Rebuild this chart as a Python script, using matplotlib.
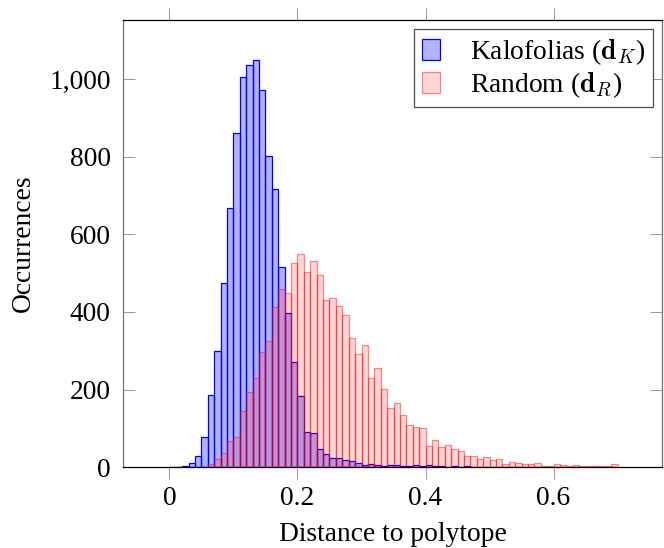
import numpy as np
import matplotlib
matplotlib.use("Agg")
import matplotlib.pyplot as plt
from matplotlib.ticker import FuncFormatter

plt.rcParams["font.family"] = ["Liberation Serif", "DejaVu Serif"]
plt.rcParams["mathtext.fontset"] = "cm"

# histogram bins: left edges, width 0.01
bin_width = 0.01
bin_left = np.round(np.arange(0, 0.70, bin_width), 2)

kalofolias_counts = [
    0, 0, 3, 10, 29, 77, 185, 299, 474, 667,
    862, 1005, 1037, 1049, 971, 801, 716, 517, 396, 272,
    183, 92, 88, 47, 33, 24, 24, 18, 15, 12,
    7, 9, 7, 3, 5, 5, 3, 3, 5, 3,
    5, 4, 3, 2, 3, 2, 3, 2, 2, 1,
    2, 1, 2, 1, 1, 2, 1, 1, 0, 1,
    1, 1, 0, 1, 1, 2, 1, 1, 1, 2,
]
random_counts = [
    0, 0, 0, 0, 1, 2, 9, 21, 38, 67,
    79, 145, 193, 231, 296, 325, 414, 460, 450, 527,
    550, 502, 530, 496, 432, 436, 416, 391, 332, 292,
    315, 231, 255, 202, 153, 166, 135, 110, 104, 101,
    56, 70, 53, 58, 48, 41, 28, 29, 21, 26,
    19, 22, 9, 14, 10, 8, 8, 10, 3, 3,
    8, 5, 4, 5, 3, 3, 4, 3, 4, 8,
]

fs = 19.8

fig = plt.figure(figsize=(6.64, 5.48), dpi=100)
ax = fig.add_axes([0.1857, 0.1473, 0.812, 0.8171])

ax.bar(bin_left, kalofolias_counts, width=bin_width, align="edge",
       facecolor=(0, 0, 1, 0.3), edgecolor=(0, 0, 1, 1), linewidth=0.9,
       label=r"Kalofolias ($\mathbf{d}_K$)")
ax.bar(bin_left, random_counts, width=bin_width, align="edge",
       facecolor=(1, 0, 0, 0.16), edgecolor=(1, 0, 0, 0.45), linewidth=0.9,
       label=r"Random ($\mathbf{d}_R$)")

ax.set_xlim(-0.072, 0.770)
ax.set_ylim(0, 1153)
ax.set_xticks([0, 0.2, 0.4, 0.6])
ax.set_xticklabels(["0", "0.2", "0.4", "0.6"])
ax.set_yticks([0, 200, 400, 600, 800, 1000])
ax.yaxis.set_major_formatter(FuncFormatter(lambda v, p: f"{v:,.0f}"))

# x ticks stick out, y ticks point in, on all four sides
ax.tick_params(axis="x", direction="out", length=8.6, width=0.7, color="0.6",
               top=True, labelsize=fs, pad=5)
ax.tick_params(axis="y", direction="in", length=8.6, width=0.7, color="0.6",
               right=True, labelsize=fs, pad=9)
for side in ["top", "bottom"]:
    ax.spines[side].set_color("black")
    ax.spines[side].set_linewidth(0.9)
for side in ["left", "right"]:
    ax.spines[side].set_color("0.45")
    ax.spines[side].set_linewidth(0.9)

ax.set_xlabel("Distance to polytope", fontsize=fs)
ax.set_ylabel("Occurrences", fontsize=fs)
ax.xaxis.set_label_coords(0.5, -0.122)
ax.yaxis.set_label_coords(-0.162, 0.5)

leg = ax.legend(loc="upper right", fontsize=fs, fancybox=False,
                edgecolor="0.3", framealpha=1, handlelength=0.66,
                handleheight=0.8, handletextpad=1.1, borderaxespad=0.35,
                labelspacing=0.12, borderpad=0.28)
leg.get_frame().set_linewidth(0.9)

fig.savefig("out.png", dpi=100)
